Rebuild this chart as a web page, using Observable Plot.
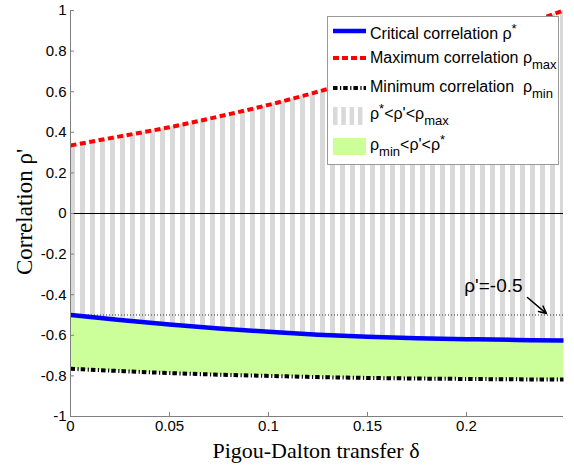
<!DOCTYPE html>
<html><head><meta charset="utf-8">
<script src="https://cdn.jsdelivr.net/npm/d3@7"></script>
<script src="https://cdn.jsdelivr.net/npm/@observablehq/plot@0.6"></script>
<style>
body{margin:0;background:#fff}
#chart{position:relative;width:574px;height:471px}
</style>
</head><body><div id="chart"></div>
<script>
// Pigou-Dalton transfer delta
const delta   = [0, 0.025, 0.05, 0.075, 0.1, 0.125, 0.15, 0.175, 0.2, 0.225, 0.249];
// Maximum correlation rho_max
const rhoMax  = [0.335, 0.38, 0.425, 0.478, 0.535, 0.600, 0.670, 0.745, 0.830, 0.915, 1.0];
// Critical correlation rho*
const rhoCrit = [-0.50, -0.525, -0.547, -0.566, -0.583, -0.597, -0.607, -0.614, -0.619, -0.623, -0.626];
// Minimum correlation rho_min
const rhoMin  = [-0.765, -0.776, -0.786, -0.794, -0.800, -0.806, -0.810, -0.813, -0.815, -0.817, -0.818];

const xTicks = [0, 0.05, 0.1, 0.15, 0.2];
const yTicks = [-1, -0.8, -0.6, -0.4, -0.2, 0, 0.2, 0.4, 0.6, 0.8, 1];
const refLevel = [-0.5];
const annotation = [{x: 0.2136, y: -0.355, label: "ρ'=-0.5", x1: 0.2308, y1: -0.414, x2: 0.2404, y2: -0.493}];
const xTitle = "Pigou-Dalton transfer δ";
const yTitle = "Correlation ρ'";

const data = delta.map((d, i) => ({d, max: rhoMax[i], crit: rhoCrit[i], min: rhoMin[i]}));
const axisGray = "#7f7f7f";
const curve = "monotone-x";

const chart = Plot.plot({
  width: 574, height: 471,
  marginLeft: 70, marginRight: 11, marginTop: 10, marginBottom: 55,
  x: {domain: [0, 0.249]},
  y: {domain: [-1, 1]},
  style: {fontFamily: "'Liberation Sans', Arial, sans-serif", fontSize: "15px", background: "white", color: "black"},
  marks: [
    Plot.areaY(data, {x: "d", y1: "crit", y2: "max", fill: "url(#stripes)", curve}),
    Plot.areaY(data, {x: "d", y1: "min", y2: "crit", fill: "#ccff99", curve}),
    Plot.ruleY([0], {stroke: "black", strokeWidth: 1}),
    Plot.ruleY(refLevel, {stroke: "#333", strokeWidth: 1, strokeDasharray: "1,2"}),
    Plot.line(data, {x: "d", y: "min", stroke: "black", strokeWidth: 4, strokeDasharray: "4.5,2.5,1.2,2", strokeLinecap: "butt", curve}),
    Plot.line(data, {x: "d", y: "crit", stroke: "#0000ff", strokeWidth: 4.5, strokeLinecap: "butt", curve}),
    Plot.line(data, {x: "d", y: "max", stroke: "#ff0000", strokeWidth: 4, strokeDasharray: "6,3.5", strokeLinecap: "butt", curve}),
    Plot.ruleX([0], {stroke: axisGray}),
    Plot.ruleY([-1], {stroke: axisGray}),
    Plot.axisX(xTicks, {tickSize: -4, tickPadding: 8, stroke: axisGray, fill: "black", tickFormat: d => String(d), label: null}),
    Plot.axisY(yTicks, {tickSize: -4, tickPadding: 8, stroke: axisGray, fill: "black", tickFormat: d => String(d), label: null}),
    Plot.text(annotation, {x: "x", y: "y", text: "label", fontSize: 19, fill: "black"}),
    Plot.arrow(annotation, {x1: "x1", y1: "y1", x2: "x2", y2: "y2", stroke: "black", strokeWidth: 1.5, headLength: 9, headAngle: 50})
  ]
});

document.getElementById("chart").appendChild(chart);
const svg = d3.select(chart);
const defs = svg.insert("defs", ":first-child");
defs.append("pattern").attr("id", "stripes").attr("patternUnits", "userSpaceOnUse")
  .attr("x", 70).attr("y", 0).attr("width", 10).attr("height", 10)
  .append("rect").attr("width", 5).attr("height", 10).attr("fill", "#d9d9d9");
defs.append("pattern").attr("id", "stripesLegend").attr("patternUnits", "userSpaceOnUse")
  .attr("x", 333).attr("y", 0).attr("width", 8.3).attr("height", 10)
  .append("rect").attr("width", 4.5).attr("height", 10).attr("fill", "#d9d9d9");

// Axis titles
svg.append("text").attr("x", 316).attr("y", 458).attr("text-anchor", "middle")
  .attr("font-family", "'Liberation Serif', 'Times New Roman', serif").attr("font-size", 22)
  .text(xTitle);
svg.append("text").attr("transform", "translate(32,212) rotate(-90)").attr("text-anchor", "middle")
  .attr("font-family", "'Liberation Serif', 'Times New Roman', serif").attr("font-size", 23)
  .text(yTitle);

// Legend
const lg = svg.append("g").attr("font-family", "'Liberation Sans', Arial, sans-serif").attr("font-size", 16)
  .attr("text-anchor", "start");
lg.append("rect").attr("x", 327.5).attr("y", 16.5).attr("width", 231).attr("height", 148)
  .attr("fill", "white").attr("stroke", "#999").attr("stroke-width", 1);
lg.append("line").attr("x1", 333).attr("x2", 366).attr("y1", 31).attr("y2", 31)
  .attr("stroke", "#0000ff").attr("stroke-width", 4.5);
lg.append("line").attr("x1", 333).attr("x2", 366).attr("y1", 58).attr("y2", 58)
  .attr("stroke", "#ff0000").attr("stroke-width", 4).attr("stroke-dasharray", "6,3");
lg.append("line").attr("x1", 333).attr("x2", 366).attr("y1", 88).attr("y2", 88)
  .attr("stroke", "black").attr("stroke-width", 4).attr("stroke-dasharray", "4.5,2.5,1.2,2");
lg.append("rect").attr("x", 333).attr("y", 107).attr("width", 33).attr("height", 18).attr("fill", "url(#stripesLegend)");
lg.append("rect").attr("x", 333).attr("y", 138).attr("width", 33).attr("height", 17).attr("fill", "#ccff99");

function legendText(y, parts) {
  const t = lg.append("text").attr("x", 370).attr("y", y).attr("text-anchor", "start").style("white-space", "pre");
  let shift = 0;
  for (const [s, kind] of parts) {
    const target = kind === "sup" ? -6 : kind === "sub" ? 6 : 0;
    const ts = t.append("tspan").attr("dy", target - shift).text(s);
    if (kind) ts.attr("font-size", 13);
    shift = target;
  }
}
legendText(39, [["Critical correlation ρ"], ["*", "sup"]]);
legendText(63, [["Maximum correlation ρ"], ["max", "sub"]]);
legendText(92, [["Minimum correlation  ρ"], ["min", "sub"]]);
legendText(119, [["ρ"], ["*", "sup"], ["<ρ'<ρ"], ["max", "sub"]]);
legendText(150, [["ρ"], ["min", "sub"], ["<ρ'<ρ"], ["*", "sup"]]);
</script>
</body></html>
